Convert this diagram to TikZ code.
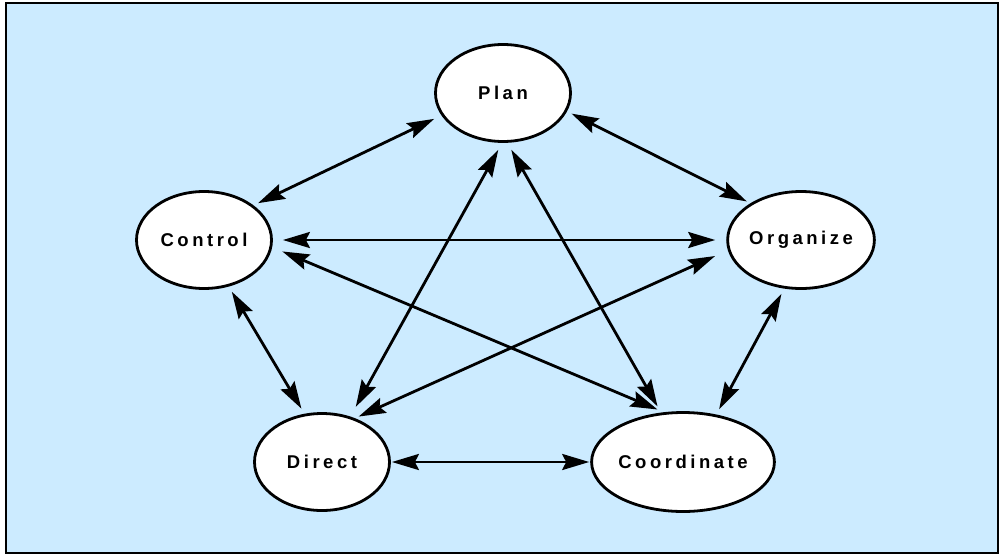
\documentclass[tikz,border=0pt]{standalone}
\usepackage{fontspec}
\newfontfamily\lblfont[LetterSpace=19]{Liberation Sans}
\usetikzlibrary{shapes.geometric,arrows.meta}
\definecolor{paleblue}{RGB}{204,235,255}

\begin{document}
\begin{tikzpicture}[x=1pt,y=-1pt,
    func/.style={draw,ellipse,fill=white,line width=2.8pt,inner sep=0pt,
      minimum width=135pt,minimum height=97pt,
      font=\lblfont\bfseries\fontsize{18.5}{22}\selectfont},
    link/.style={>={Stealth[length=27pt,width=16pt,inset=4pt]},<->,line width=2.8pt}]
    \useasboundingbox (0,0) rectangle (1000,554);
    \draw[fill=paleblue,line width=1.5pt] (6,3) rectangle (998,553); % background panel
    % the five functions
    \node[func] (plan)     at (503,93)  {Plan};
    \node[func] (control)  at (204,240) {Control};
    \node[func] (organize) at (801,240) {Organize};
    \node[func] (direct)   at (322,462) {Direct};
    \node[func,minimum width=137pt,minimum height=99pt] (coord) at (683,462) {Coordinate};
    % every pair is linked both ways: from/angle/to/angle/gap at start/gap at end
    \foreach \a/\s/\b/\t/\p/\q in {plan/200/control/35/8/5,
                                   plan/344/organize/144/5/4,
                                   plan/269/direct/58/8/11,
                                   plan/275/coord/114/8/7,
                                   control/0/organize/180/10/11,
                                   control/354/coord/111/11/7,
                                   control/298/direct/110/6/6,
                                   organize/188/direct/53/14/4,
                                   organize/251/coord/55/6/6,
                                   direct/0/coord/180/1/1}{
      \draw[link,shorten <=\p pt,shorten >=\q pt] (\a.\s) -- (\b.\t);
    }
\end{tikzpicture}
\end{document}
